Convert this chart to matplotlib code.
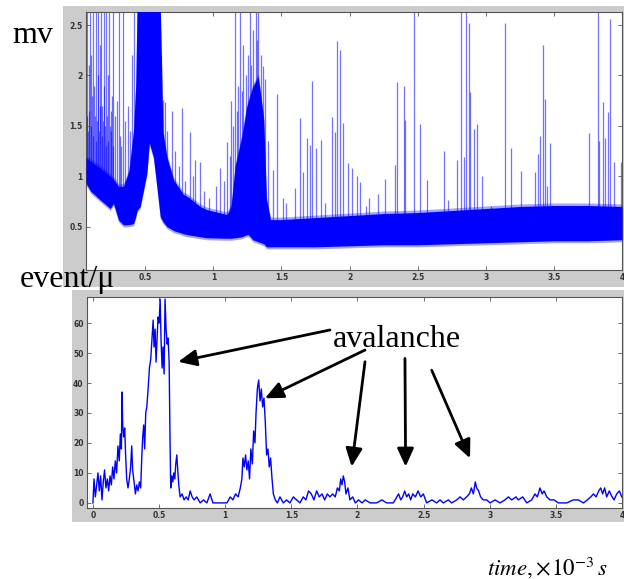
import numpy as np
import matplotlib
matplotlib.use('Agg')
import matplotlib.pyplot as plt
from matplotlib.patches import Rectangle
from matplotlib.ticker import FormatStrFormatter

plt.rcParams['mathtext.fontset'] = 'stix'

# membrane potential: envelope of the dense noise band (t in 1e-3 s, mV)
band_t = [0.065, 0.10, 0.17, 0.243, 0.267, 0.304, 0.34, 0.38, 0.414, 0.43, 0.44,
          0.463, 0.512, 0.53, 0.56, 0.585, 0.61, 0.63, 0.659, 0.71, 0.78, 0.81,
          0.903, 0.95, 1.10, 1.13, 1.16, 1.21, 1.245, 1.258, 1.29, 1.33, 1.37,
          1.39, 1.42, 1.50, 1.75, 2.00, 2.25, 2.50, 2.75, 3.00, 3.25, 3.50,
          3.75, 4.00]
band_lo = [0.93, 0.85, 0.765, 0.68, 0.73, 0.566, 0.517, 0.52, 0.53, 0.60, 0.66,
           0.70, 1.03, 1.33, 1.19, 0.90, 0.60, 0.55, 0.50, 0.46, 0.43, 0.42,
           0.40, 0.39, 0.385, 0.385, 0.39, 0.40, 0.42, 0.42, 0.37, 0.35, 0.33,
           0.30, 0.30, 0.30, 0.30, 0.31, 0.32, 0.32, 0.33, 0.34, 0.35, 0.36,
           0.36, 0.37]
band_hi = [1.18, 1.15, 1.08, 1.00, 0.97, 0.90, 0.90, 1.05, 1.45, 1.90, 2.70,
           2.70, 2.70, 2.70, 2.70, 2.70, 2.70, 1.44, 1.19, 0.96, 0.82, 0.80,
           0.70, 0.67, 0.62, 0.70, 1.10, 1.40, 1.69, 1.75, 1.89, 1.99, 1.56,
           0.77, 0.57, 0.57, 0.59, 0.61, 0.63, 0.64, 0.66, 0.68, 0.70, 0.71,
           0.71, 0.70]

# single spikes rising out of the band
spike_t = [0.070, 0.075, 0.080, 0.085, 0.090, 0.095, 0.100, 0.105, 0.110, 0.115,
           0.120, 0.125, 0.130, 0.135, 0.140, 0.145, 0.150, 0.155, 0.160, 0.165,
           0.170, 0.175, 0.180, 0.185, 0.190, 0.195, 0.200, 0.205, 0.210, 0.215,
           0.220, 0.225, 0.230, 0.235, 0.240, 0.245, 0.250, 0.255, 0.260, 0.265,
           0.275, 0.29, 0.305, 0.315, 0.325, 0.335, 0.35, 0.37, 0.385, 0.40, 0.415, 0.43,
           0.615, 0.63, 0.646, 0.66, 0.695, 0.72, 0.75, 0.769, 0.79, 0.83, 0.85,
           0.867, 0.903, 0.93, 0.97, 1.02, 1.05, 1.08, 1.10, 1.12,
           1.13, 1.145, 1.16, 1.17, 1.18, 1.197, 1.21, 1.22, 1.24, 1.255, 1.27,
           1.28, 1.29, 1.31, 1.32, 1.33, 1.35, 1.368, 1.38, 1.40,
           1.441, 1.47, 1.51, 1.535, 1.60, 1.637, 1.66, 1.69, 1.71, 1.725, 1.75,
           1.789, 1.82, 1.869, 1.89, 1.91, 1.93, 1.95, 1.987, 2.016, 2.053, 2.08,
           2.12, 2.14, 2.211, 2.26, 2.334, 2.346, 2.40, 2.41, 2.473, 2.52, 2.57,
           2.693, 2.72, 2.791, 2.816, 2.84, 2.855, 2.879, 2.885, 2.91, 2.933,
           2.97, 3.04, 3.141, 3.183, 3.26, 3.361, 3.38, 3.40, 3.422, 3.435, 3.45,
           3.47, 3.76, 3.821, 3.83, 3.857, 3.875, 3.90, 3.911, 3.94, 3.995]
spike_h = [1.60, 2.63, 1.45, 1.65, 2.10, 2.63, 1.50, 2.20, 1.80, 2.63,
           1.40, 1.90, 1.60, 2.63, 1.35, 1.55, 2.00, 2.63, 1.45, 2.30,
           1.70, 2.63, 1.40, 1.70, 1.55, 2.63, 1.90, 1.50, 1.30, 2.63,
           1.60, 2.00, 1.35, 2.63, 1.50, 1.45, 1.65, 1.80, 1.30, 2.63,
           1.60, 1.75, 2.63, 1.40, 1.30, 2.63, 1.55, 1.70, 1.45, 2.20, 2.63, 1.80,
           2.20, 1.76, 1.74, 1.45, 1.65, 1.25, 1.10, 1.68, 0.95, 1.44, 1.00,
           1.16, 1.14, 0.85, 0.78, 0.90, 1.08, 0.95, 1.34, 1.20,
           1.75, 1.50, 2.63, 1.65, 1.90, 2.63, 1.85, 2.30, 2.00, 2.20, 2.63,
           2.10, 2.45, 2.63, 2.35, 2.63, 2.20, 2.09, 1.97, 1.35,
           1.06, 1.82, 0.78, 0.73, 0.88, 1.58, 1.04, 1.38, 1.31, 1.945, 1.28,
           1.36, 0.73, 1.59, 1.44, 2.34, 2.25, 1.53, 1.13, 1.08, 1.00, 0.94,
           0.71, 0.78, 0.82, 0.97, 1.11, 1.94, 1.90, 1.56, 2.63, 1.52, 0.96,
           1.25, 0.76, 1.16, 2.63, 1.19, 2.63, 2.52, 1.84, 1.47, 1.52,
           1.00, 0.71, 2.52, 1.28, 1.05, 1.04, 1.22, 1.40, 2.30, 1.77, 0.90,
           1.33, 1.43, 2.63, 1.35, 1.74, 1.38, 1.64, 2.56, 1.14, 1.14]

# avalanche event counts
event_t = [0.000, 0.008, 0.018, 0.028, 0.038, 0.048, 0.058, 0.068, 0.078, 0.088,
           0.098, 0.109, 0.119, 0.129, 0.139, 0.149, 0.159, 0.169, 0.179, 0.189,
           0.199, 0.207, 0.215, 0.220, 0.225, 0.232, 0.240, 0.247, 0.255, 0.265,
           0.275, 0.285, 0.293, 0.300, 0.311, 0.321, 0.331, 0.341, 0.351, 0.361,
           0.369, 0.376, 0.384, 0.391, 0.399, 0.407, 0.417, 0.427, 0.437, 0.447,
           0.455, 0.462, 0.470, 0.477, 0.485, 0.492, 0.500, 0.508, 0.515, 0.523,
           0.530, 0.538, 0.545, 0.553, 0.561, 0.568, 0.576, 0.583, 0.588, 0.596,
           0.604, 0.611, 0.619, 0.626, 0.634, 0.641, 0.649, 0.659, 0.674, 0.689,
           0.705, 0.720, 0.735, 0.750, 0.765, 0.785, 0.811, 0.836, 0.861, 0.886,
           0.907, 0.962, 1.013, 1.038, 1.058, 1.078, 1.098, 1.114, 1.126, 1.134,
           1.144, 1.154, 1.164, 1.174, 1.184, 1.194, 1.205, 1.215, 1.225, 1.233,
           1.243, 1.253, 1.263, 1.273, 1.283, 1.293, 1.303, 1.313, 1.323, 1.333,
           1.343, 1.354, 1.364, 1.379, 1.394, 1.414, 1.439, 1.464, 1.489, 1.515,
           1.540, 1.565, 1.590, 1.610, 1.630, 1.651, 1.671, 1.691, 1.711, 1.732,
           1.752, 1.772, 1.792, 1.812, 1.832, 1.848, 1.863, 1.873, 1.883, 1.893,
           1.903, 1.913, 1.928, 1.943, 1.964, 1.984, 2.009, 2.034, 2.059, 2.095,
           2.145, 2.185, 2.220, 2.271, 2.311, 2.327, 2.342, 2.357, 2.372, 2.387,
           2.402, 2.418, 2.438, 2.458, 2.478, 2.498, 2.523, 2.563, 2.599, 2.624,
           2.649, 2.687, 2.712, 2.750, 2.776, 2.800, 2.825, 2.846, 2.861, 2.876,
           2.891, 2.901, 2.916, 2.931, 2.951, 2.977, 3.002, 3.040, 3.078, 3.115,
           3.141, 3.166, 3.199, 3.216, 3.249, 3.280, 3.317, 3.342, 3.360, 3.380,
           3.396, 3.411, 3.431, 3.456, 3.486, 3.519, 3.582, 3.632, 3.670, 3.708,
           3.738, 3.764, 3.784, 3.804, 3.824, 3.839, 3.854, 3.869, 3.884, 3.904,
           3.925, 3.940, 3.960, 3.980, 3.998]
event_n = [0, 8, 2, 6, 10, 4, 9, 1, 7, 11,
           5, 8, 4, 9, 6, 12, 8, 14, 10, 19,
           14, 23, 18, 37, 26, 22, 25, 16, 8, 5,
           8, 12, 19, 11, 7, 3, 6, 4, 7, 5,
           15, 22, 26, 18, 30, 32, 38, 45, 48, 55,
           61, 52, 58, 47, 55, 62, 60, 68, 54, 45,
           52, 43, 68, 58, 53, 55, 47, 20, 5, 9,
           7, 10, 8, 13, 16, 11, 6, 2, 3, 1,
           2, 1, 4, 2, 1, 2, 0, 1, 0, 3,
           0, 0, 0, 2, 1, 3, 2, 5, 8, 15,
           12, 16, 11, 14, 8, 18, 13, 24, 20, 30,
           38, 41, 34, 38, 32, 35, 27, 16, 18, 12,
           15, 8, 3, 1, 0, 2, 0, 1, 0, 2,
           1, 0, 2, 1, 4, 3, 1, 4, 2, 3,
           1, 3, 2, 3, 2, 5, 4, 8, 6, 9,
           7, 3, 5, 1, 2, 0, 1, 0, 1, 0,
           0, 1, 0, 0, 3, 1, 2, 4, 2, 3,
           1, 3, 2, 4, 2, 3, 0, 1, 0, 1,
           0, 1, 0, 1, 2, 1, 2, 3, 5, 3,
           7, 5, 4, 2, 1, 1, 0, 1, 0, 1,
           2, 1, 2, 1, 2, 0, 1, 3, 2, 5,
           3, 4, 2, 1, 1, 0, 0, 1, 1, 0,
           1, 2, 3, 2, 4, 5, 3, 5, 2, 4,
           2, 1, 3, 4, 2]

# arrows: (tail t, tail n) -> (head t, head n)
arrow_tail = [(1.792, 57.7), (2.057, 51.0), (2.057, 47.1), (2.359, 48.2), (2.561, 44.3)]
arrow_head = [(0.645, 47.1), (1.300, 34.9), (1.956, 12.1), (2.364, 12.1), (2.851, 14.9)]

W, H = 624, 579
fig = plt.figure(figsize=(W / 100, H / 100), dpi=100)
fig.patch.set_facecolor('white')

# grey figure panels behind each axes
fig.patches.append(Rectangle((63 / W, 1 - 287 / H), (W - 63) / W, 281 / H,
                             transform=fig.transFigure, facecolor='#cccccc',
                             edgecolor='none', zorder=-10))
fig.patches.append(Rectangle((72 / W, 1 - 522 / H), (W - 72) / W, 232 / H,
                             transform=fig.transFigure, facecolor='#cccccc',
                             edgecolor='none', zorder=-10))

ax1 = fig.add_axes([86 / W, 1 - 270 / H, 536 / W, 258 / H])
ax2 = fig.add_axes([87 / W, 1 - 508 / H, 535 / W, 211 / H])


def matlab_style(ax):
    ax.tick_params(direction='in', length=3, width=0.6, top=True, right=True,
                   labelsize=5.5, labelcolor='#333333', color='#555555', pad=2.5)
    for lab in ax.get_xticklabels() + ax.get_yticklabels():
        lab.set_fontweight('bold')
    for s in ax.spines.values():
        s.set_color('#555555')
        s.set_linewidth(0.8)
    ax.xaxis.set_major_formatter(FormatStrFormatter('%g'))
    ax.yaxis.set_major_formatter(FormatStrFormatter('%g'))


# top: raw signal, spikes start inside the band
bt = np.array(band_t)
spike_base = np.interp(spike_t, band_t, band_lo) + 0.05
ax1.vlines(spike_t, spike_base, spike_h, colors='blue', lw=0.9, alpha=0.55, zorder=1)
ax1.fill_between(bt, np.array(band_lo) - 0.02, np.array(band_hi) + 0.025,
                 color='blue', alpha=0.35, lw=0, zorder=2)
ax1.fill_between(bt, band_lo, band_hi, color='blue', lw=0, zorder=3)
ax1.set_xlim(0.065, 4.0)
ax1.set_ylim(0.07, 2.63)
ax1.set_xticks(np.arange(0.5, 4.01, 0.5))
ax1.set_yticks([0.5, 1, 1.5, 2, 2.5])
matlab_style(ax1)

# bottom: event count
ax2.plot(event_t, event_n, color='blue', lw=1.0)
ax2.set_xlim(-0.045, 4.0)
ax2.set_ylim(-1.7, 68.7)
ax2.set_xticks(np.arange(0, 4.01, 0.5))
ax2.set_yticks(np.arange(0, 61, 10))
matlab_style(ax2)

ax2.text(1.815, 52, 'avalanche', fontsize=23, family='Liberation Serif',
         ha='left', va='baseline')
for tail, head in zip(arrow_tail, arrow_head):
    ax2.annotate('', xy=head, xytext=tail,
                 arrowprops=dict(arrowstyle='-|>,head_length=1.1,head_width=0.5',
                                 color='black', lw=2, shrinkA=0, shrinkB=0,
                                 mutation_scale=10))

fig.text(12 / W, 1 - 43 / H, 'mv', fontsize=23, family='Liberation Serif',
         ha='left', va='baseline')
fig.text(20 / W, 1 - 287 / H, 'event/\u03bc', fontsize=23, family='Liberation Serif',
         ha='left', va='baseline')
fig.text(487 / W, 1 - 575 / H, r'$time,\!\times\!10^{-3}\,s$', fontsize=16.5,
         ha='left', va='baseline')

fig.savefig('out.png', dpi=100)
